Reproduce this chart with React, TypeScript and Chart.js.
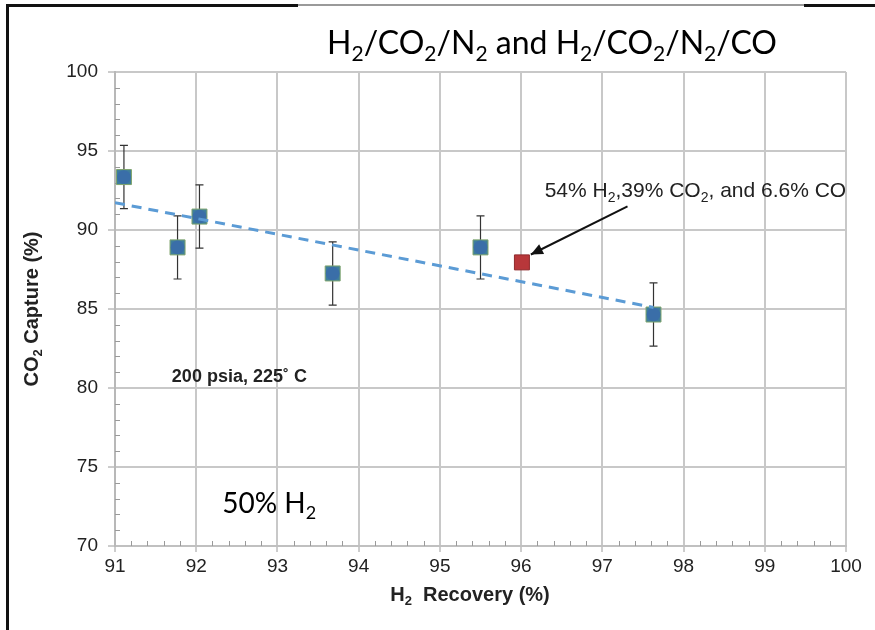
import React, { useEffect, useRef } from "react";
import { Chart, registerables } from "chart.js";

Chart.register(...registerables);

// ---- data ----
const recovery = [91.11, 91.77, 92.04, 93.68, 95.5, 97.63];
const capture = [93.35, 88.9, 90.85, 87.25, 88.9, 84.65];
const captureErr = [2, 2, 2, 2, 2, 2];
const coRecovery = [96.01];
const coCapture = [87.95];
const trendX = [91, 97.63];
const trendY = [91.73, 85.1];
const xMin = 91, xMax = 100, xStep = 1, xMinorStep = 0.2;
const yMin = 70, yMax = 100, yStep = 5, yMinorStep = 1;

const SANS = '"Liberation Sans", Arial, sans-serif';
const TITLE_FONT = 'Lato, "Open Sans", sans-serif';

type Seg = [string, boolean];

function drawRich(ctx: CanvasRenderingContext2D, segs: Seg[], x: number, y: number, size: number, family: string, weight: string, align: "left" | "center", color: string) {
  const subSize = Math.round(size * 0.66);
  const widths = segs.map(([t, sub]) => {
    ctx.font = `${weight} ${sub ? subSize : size}px ${family}`;
    return ctx.measureText(t).width;
  });
  const total = widths.reduce((a, b) => a + b, 0);
  let cx = align === "center" ? x - total / 2 : x;
  ctx.save();
  ctx.fillStyle = color;
  ctx.textBaseline = "alphabetic";
  ctx.textAlign = "left";
  segs.forEach(([t, sub], i) => {
    ctx.font = `${weight} ${sub ? subSize : size}px ${family}`;
    ctx.fillText(t, cx, sub ? y + size * 0.22 : y);
    cx += widths[i];
  });
  ctx.restore();
}

const titleSegs: Seg[] = [["H", false], ["2", true], ["/CO", false], ["2", true], ["/N", false], ["2", true], [" and H", false], ["2", true], ["/CO", false], ["2", true], ["/N", false], ["2", true], ["/CO", false]];
const yTitleSegs: Seg[] = [["CO", false], ["2", true], [" Capture (%)", false]];
const xTitleSegs: Seg[] = [["H", false], ["2", true], ["  Recovery (%)", false]];
const noteSegs: Seg[] = [["54% H", false], ["2", true], [",39% CO", false], ["2", true], [", and 6.6% CO", false]];
const h2Segs: Seg[] = [["50% H", false], ["2", true]];
const condText = "200 psia, 225\u02DA C";

const decorPlugin = {
  id: "decor",
  beforeDatasetsDraw(chart: any) {
    const ctx: CanvasRenderingContext2D = chart.ctx;
    const xs = chart.scales.x, ys = chart.scales.y;
    const area = chart.chartArea;
    ctx.save();
    // minor ticks
    ctx.strokeStyle = "#9a9a9a";
    ctx.lineWidth = 1;
    ctx.beginPath();
    for (let v = yMin; v <= yMax + 1e-6; v += yMinorStep) {
      if (Math.abs(v / yStep - Math.round(v / yStep)) < 1e-6) continue;
      const py = Math.round(ys.getPixelForValue(v)) + 0.5;
      ctx.moveTo(area.left, py);
      ctx.lineTo(area.left + 5, py);
    }
    for (let i = 0; xMin + i * xMinorStep <= xMax + 1e-6; i++) {
      const v = xMin + i * xMinorStep;
      if (Math.abs(v - Math.round(v)) < 1e-6) continue;
      const px = Math.round(xs.getPixelForValue(v)) + 0.5;
      ctx.moveTo(px, area.bottom);
      ctx.lineTo(px, area.bottom - 5);
    }
    ctx.stroke();
    // error bars
    ctx.strokeStyle = "#333333";
    ctx.lineWidth = 1.2;
    recovery.forEach((xv, i) => {
      const px = xs.getPixelForValue(xv);
      const top = ys.getPixelForValue(capture[i] + captureErr[i]);
      const bot = ys.getPixelForValue(capture[i] - captureErr[i]);
      ctx.beginPath();
      ctx.moveTo(px, top);
      ctx.lineTo(px, bot);
      ctx.moveTo(px - 4, top);
      ctx.lineTo(px + 4, top);
      ctx.moveTo(px - 4, bot);
      ctx.lineTo(px + 4, bot);
      ctx.stroke();
    });
    ctx.restore();
  },
  afterDraw(chart: any) {
    const ctx: CanvasRenderingContext2D = chart.ctx;
    const xs = chart.scales.x, ys = chart.scales.y;
    const area = chart.chartArea;
    const W = chart.width;
    ctx.save();
    // outer frame
    ctx.fillStyle = "#111";
    ctx.fillRect(6, 4, 3, chart.height - 4);
    ctx.fillRect(6, 4, 292, 3);
    ctx.fillStyle = "#9a9a9a";
    ctx.fillRect(298, 4, 506, 2);
    ctx.fillStyle = "#111";
    ctx.fillRect(804, 4, W - 804, 3);
    ctx.restore();

    // title
    drawRich(ctx, titleSegs, 552, 54, 32, TITLE_FONT, "normal", "center", "#000");
    // axis titles
    ctx.save();
    ctx.translate(31, (area.top + area.bottom) / 2);
    ctx.rotate(-Math.PI / 2);
    drawRich(ctx, yTitleSegs, 0, 7, 20, SANS, "bold", "center", "#222");
    ctx.restore();
    drawRich(ctx, xTitleSegs, 470, 601, 20, SANS, "bold", "center", "#222");

    // annotations
    ctx.save();
    ctx.font = `bold 18px ${SANS}`;
    ctx.fillStyle = "#222";
    ctx.textAlign = "left";
    ctx.fillText(condText, xs.getPixelForValue(91.7), ys.getPixelForValue(80.38));
    ctx.restore();
    drawRich(ctx, h2Segs, xs.getPixelForValue(92.32), ys.getPixelForValue(72.07), 28, TITLE_FONT, "normal", "left", "#000");
    drawRich(ctx, noteSegs, xs.getPixelForValue(96.29), ys.getPixelForValue(92.09), 21, SANS, "normal", "left", "#222");

    // arrow
    const x1 = xs.getPixelForValue(97.31), y1 = ys.getPixelForValue(91.5);
    const x2 = xs.getPixelForValue(96.12), y2 = ys.getPixelForValue(88.45);
    ctx.save();
    ctx.strokeStyle = "#111";
    ctx.fillStyle = "#111";
    ctx.lineWidth = 2;
    ctx.beginPath();
    ctx.moveTo(x1, y1);
    ctx.lineTo(x2, y2);
    ctx.stroke();
    const ang = Math.atan2(y2 - y1, x2 - x1);
    const L = 12, Wd = 5.5;
    ctx.beginPath();
    ctx.moveTo(x2, y2);
    ctx.lineTo(x2 - L * Math.cos(ang) + Wd * Math.sin(ang), y2 - L * Math.sin(ang) - Wd * Math.cos(ang));
    ctx.lineTo(x2 - L * Math.cos(ang) - Wd * Math.sin(ang), y2 - L * Math.sin(ang) + Wd * Math.cos(ang));
    ctx.closePath();
    ctx.fill();
    ctx.restore();
  },
};

export default function App() {
  const ref = useRef<HTMLCanvasElement | null>(null);
  useEffect(() => {
    if (!ref.current) return;
    const pts = recovery.map((x, i) => ({ x, y: capture[i] }));
    const chart = new Chart(ref.current, {
      type: "scatter",
      data: {
        datasets: [
          {
            label: "H2/CO2/N2",
            data: pts,
            pointStyle: "rect",
            pointRadius: 10.6,
            backgroundColor: "#3e7e9c",
            borderColor: "#7fa46c",
            borderWidth: 1,
            order: 3,
          },
          {
            label: "H2/CO2/N2 inner",
            data: pts,
            pointStyle: "circle",
            pointRadius: 6.8,
            backgroundColor: "#3a6ea8",
            borderWidth: 0,
            order: 2,
          },
          {
            label: "H2/CO2/N2/CO",
            data: coRecovery.map((x, i) => ({ x, y: coCapture[i] })),
            pointStyle: "rect",
            pointRadius: 10.6,
            backgroundColor: "#b8373a",
            borderColor: "#8f2a2c",
            borderWidth: 1,
            order: 1,
          },
          {
            type: "line",
            label: "trend",
            data: trendX.map((x, i) => ({ x, y: trendY[i] })),
            borderColor: "#5b9bd5",
            borderWidth: 3,
            borderDash: [10, 7],
            pointRadius: 0,
            showLine: true,
            fill: false,
            order: 0,
          } as any,
        ],
      },
      options: {
        animation: false,
        responsive: false,
        maintainAspectRatio: false,
        layout: { padding: { top: 72, right: 29, left: 0, bottom: 0 } },
        plugins: { legend: { display: false }, tooltip: { enabled: false }, title: { display: false } },
        scales: {
          x: {
            type: "linear",
            min: xMin,
            max: xMax,
            afterFit: (s: any) => { s.height = 84; },
            ticks: { stepSize: xStep, color: "#222", font: { family: SANS, size: 19 }, padding: 3 },
            grid: { color: "#c8c8c8", lineWidth: 2, tickLength: 6, tickColor: "#9a9a9a", tickWidth: 1 },
            border: { color: "#c0c0c0", width: 2 },
          },
          y: {
            type: "linear",
            min: yMin,
            max: yMax,
            afterFit: (s: any) => { s.width = 115; },
            ticks: { stepSize: yStep, color: "#222", font: { family: SANS, size: 19 }, padding: 10 },
            grid: { color: "#c8c8c8", lineWidth: 2, tickLength: 7, tickColor: "#9a9a9a", tickWidth: 1 },
            border: { color: "#b8b8b8", width: 2 },
          },
        },
      },
      plugins: [decorPlugin],
    });
    return () => chart.destroy();
  }, []);
  return (
    <div style={{ position: "fixed", left: 0, top: 0, width: 875, height: 630, background: "#fff" }}>
      <canvas ref={ref} width={875} height={630} style={{ width: 875, height: 630 }} />
    </div>
  );
}
